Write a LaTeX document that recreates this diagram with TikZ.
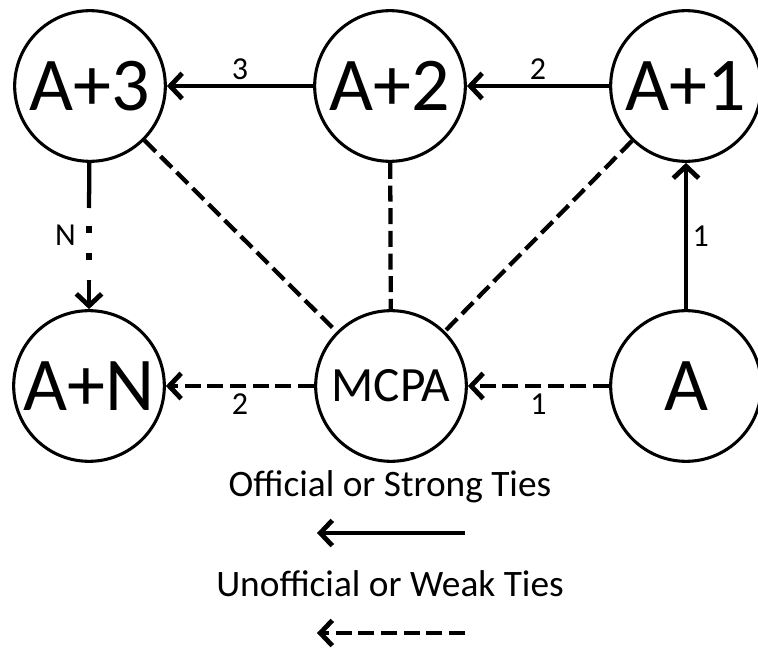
\documentclass[tikz,border=0pt]{standalone}
\usepackage{fontspec}
\setmainfont{Carlito}
\usetikzlibrary{arrows.meta}

\begin{document}
\begin{tikzpicture}[x=0.75pt,y=-0.75pt,
  member/.style={circle,draw,line width=2.3pt,minimum size=113pt,inner sep=0pt,font=\fontsize{57}{64}\selectfont},
  strongtie/.style={line width=3.2pt},
  weaktie/.style={line width=3.2pt,dash pattern=on 12pt off 5pt},
  tip/.style={-{Straight Barb[length=9pt,width=19pt,line width=3.6pt]}},
  num/.style={font=\fontsize{24}{27}\selectfont},
  legend/.style={font=\fontsize{28}{32}\selectfont}]
\useasboundingbox (0,0) rectangle (758,649);

% Draw members
\node[member] (a3) at (90,86) {A+3};
\node[member] (a2) at (390,86) {A+2};
\node[member] (a1) at (686,86) {A+1};
\node[member] (an) at (89,386) {A+N};
\node[member, font=\fontsize{37}{42}\selectfont] (mcpa) at (391,386) {MCPA};
\node[member] (a) at (686,386) {A};

% Draw strong ties
\draw[strongtie, tip] (a) -- node[num, right] {1} (a1);
\draw[strongtie, tip] (a1) -- node[num, above] {2} (a2);
\draw[strongtie, tip] (a2) -- node[num, above] {3} (a3);

% Draw the N steps
\coordinate (nstop) at (89,208);
\coordinate (nstart) at (89,280);
\draw[strongtie] (a3) -- (nstop);
\draw[line width=5pt, dash pattern=on 5.25pt off 15pt, dash phase=6.75pt] (nstop) -- node[num, left=4pt, pos=0.38] {N} (nstart);
\draw[strongtie, tip] (nstart) -- (an);

% Draw weak ties
\draw[weaktie] (a3) -- (mcpa);
\draw[weaktie] (a2) -- (mcpa);
\draw[weaktie] (a1) -- (mcpa);
\draw[weaktie, tip] (a) -- node[num, below=1pt] {1} (mcpa);
\draw[weaktie, tip] (mcpa) -- node[num, below=1pt] {2} (an);

% Legend
\node[legend] (strong) at (390,487) {Official or Strong Ties};
\coordinate (s1) at (465,533);
\coordinate (s2) at (317,533);
\draw[strongtie, tip] (s1) -- (s2);
\node[legend] (weak) at (390,584) {Unofficial or Weak Ties};
\coordinate (w1) at (465,633);
\coordinate (w2) at (317,633);
\draw[weaktie, tip] (w1) -- (w2);
\end{tikzpicture}
\end{document}
